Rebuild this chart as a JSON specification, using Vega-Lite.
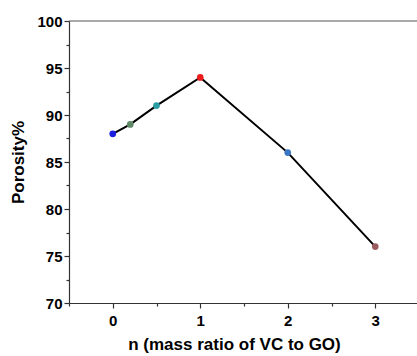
{
  "$schema": "https://vega.github.io/schema/vega-lite/v6.json",
  "autosize": "none",
  "padding": {"left": 69, "top": 21, "right": 0, "bottom": 53},
  "width": 350,
  "height": 282,
  "background": "white",
  "config": {
    "view": {"stroke": null},
    "axis": {"grid": false, "labelFont": "Liberation Sans", "titleFont": "Liberation Sans", "labelFontWeight": "bold", "titleFontWeight": "bold", "labelColor": "black", "titleColor": "black", "domainColor": "#333", "tickColor": "#333", "domainWidth": 1.2, "tickWidth": 1.2}
  },
  "data": {"values": [
    {"n": 0, "porosity": 88, "c": "a"},
    {"n": 0.2, "porosity": 89, "c": "b"},
    {"n": 0.5, "porosity": 91, "c": "c"},
    {"n": 1, "porosity": 94, "c": "d"},
    {"n": 2, "porosity": 86, "c": "e"},
    {"n": 3, "porosity": 76, "c": "f"}
  ]},
  "encoding": {
    "x": {"field": "n", "type": "quantitative", "scale": {"domain": [-0.5, 3.5], "nice": false, "zero": false},
      "axis": {"title": "n (mass ratio of VC to GO)", "values": [-0.5, 0, 0.5, 1, 1.5, 2, 2.5, 3, 3.5],
        "labelExpr": "datum.value % 1 === 0 ? format(datum.value, 'd') : ''",
        "tickSize": {"condition": {"test": "datum.value % 1 === 0", "value": 5}, "value": 3},
        "labelFontSize": 15, "titleFontSize": 17, "labelPadding": 5, "titlePadding": 8, "titleX": 165, "titleAlign": "center", "labelFlush": false}},
    "y": {"field": "porosity", "type": "quantitative", "scale": {"domain": [70, 100], "nice": false, "zero": false},
      "axis": {"title": "Porosity%", "values": [70, 72.5, 75, 77.5, 80, 82.5, 85, 87.5, 90, 92.5, 95, 97.5, 100],
        "labelExpr": "datum.value % 5 === 0 ? format(datum.value, 'd') : ''",
        "tickSize": {"condition": {"test": "datum.value % 5 === 0", "value": 5}, "value": 3},
        "labelFontSize": 15, "titleFontSize": 17, "labelPadding": 2, "titlePadding": 9, "labelFlush": false}}
  },
  "layer": [
    {"mark": {"type": "line", "color": "black", "strokeWidth": 2}},
    {"mark": {"type": "circle", "size": 45, "opacity": 1},
      "encoding": {"color": {"field": "c", "type": "nominal", "legend": null,
        "scale": {"domain": ["a", "b", "c", "d", "e", "f"], "range": ["#1c1ee0", "#5e8a66", "#2a9ea2", "#ec1c1c", "#3a76c2", "#9a5c5e"]}}}},
    {"mark": {"type": "rule", "color": "#555", "strokeWidth": 1.2},
      "data": {"values": [{"y": 100, "x1": -0.5, "x2": 3.5}]},
      "encoding": {"y": {"field": "y", "type": "quantitative"}, "x": {"field": "x1", "type": "quantitative"}, "x2": {"field": "x2"}}}
  ]
}
